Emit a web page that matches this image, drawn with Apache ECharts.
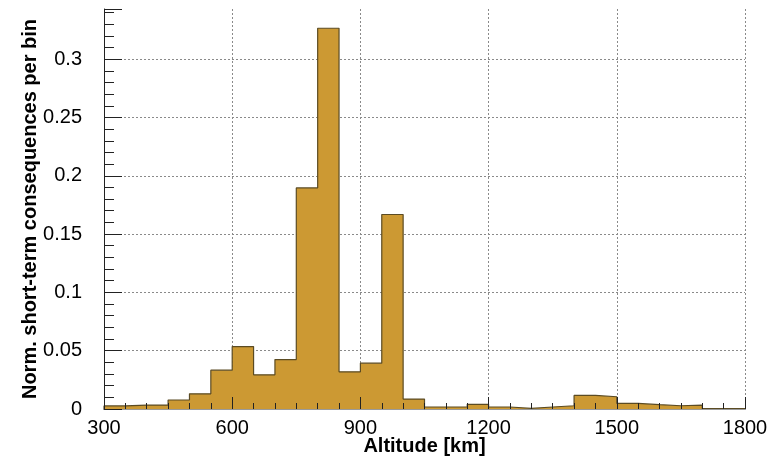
<!DOCTYPE html>
<html>
<head>
<meta charset="utf-8">
<script src="https://cdn.jsdelivr.net/npm/echarts@6/dist/echarts.min.js"></script>
<style>html,body{margin:0;padding:0;background:#fff;}#c{width:767px;height:462px;}</style>
</head>
<body>
<div id="c"></div>
<script>
// Bin edges (km) of the altitude histogram
const binEdges = [300,350,400,450,500,550,600,650,700,750,800,850,900,950,1000,1050,
  1100,1150,1200,1250,1300,1350,1400,1450,1500,1550,1600,1650,1700,1750,1800];
// Normalised short-term consequences per bin
const binValues = [0.0026,0.0034,0.0034,0.0077,0.013,0.0333,0.0535,0.0293,0.0424,0.1896,
  0.3265,0.0319,0.0393,0.1668,0.0085,0.0017,0.0017,0.004,0.0017,0.0005,
  0.0017,0.0028,0.0116,0.0105,0.0048,0.0037,0.0028,0.0034,0.0004,0.0004];
const xTickLabels = [300,600,900,1200,1500,1800];
const yTickLabels = [0,0.05,0.1,0.15,0.2,0.25,0.3];

const X_MIN = xTickLabels[0], X_MAX = xTickLabels[xTickLabels.length-1];
const Y_MAX = 0.343;

// Step outline of the histogram built from the bins
const outline = [[binEdges[0],0]];
binValues.forEach((v,i)=>{ outline.push([binEdges[i],v]); outline.push([binEdges[i+1],v]); });
outline.push([binEdges[binEdges.length-1],0]);

const FONT = 'Liberation Sans, Arial, Helvetica, sans-serif';
const chart = echarts.init(document.getElementById('c'), null, {renderer:'canvas'});
const gridDash = {color:'#8a8a8a', width:1, type:[2,2]};

chart.setOption({
  animation:false,
  backgroundColor:'#fff',
  grid:{left:104, right:22, top:9, bottom:53, containLabel:false, outerBoundsMode:'none'},
  xAxis:[
    {type:'value', min:X_MIN, max:X_MAX, interval:300, position:'bottom', z:0,
     axisLine:{show:true, onZero:false, lineStyle:{color:'#222', width:1}},
     axisTick:{show:false}, minorTick:{show:false},
     axisLabel:{show:true, margin:9, color:'#000', fontSize:20, fontFamily:FONT,
       formatter:(v)=> xTickLabels.includes(v) ? String(v) : ''},
     splitLine:{show:true, lineStyle:gridDash},
     name:'Altitude [km]', nameLocation:'middle', nameGap:27, nameMoveOverlap:false,
     nameTextStyle:{color:'#000', fontSize:20, fontWeight:'bold', fontFamily:FONT}},
    {type:'value', min:X_MIN, max:X_MAX, interval:300, position:'bottom', z:10,
     axisLine:{show:false}, axisLabel:{show:false}, splitLine:{show:false},
     axisTick:{show:true, inside:true, length:12, lineStyle:{color:'#222'}},
     minorTick:{show:true, splitNumber:6, length:6, lineStyle:{color:'#222'}}},
    {type:'value', min:X_MIN, max:X_MAX, position:'top', z:10,
     axisLine:{show:true, lineStyle:{color:'#9a9a9a', width:1}},
     axisTick:{show:false}, axisLabel:{show:false}, splitLine:{show:false}}
  ],
  yAxis:[
    {type:'value', min:0, max:Y_MAX, interval:0.05, position:'left', z:0,
     axisLine:{show:true, onZero:false, lineStyle:{color:'#222', width:1}},
     axisTick:{show:false},
     axisLabel:{show:true, showMaxLabel:false, margin:22, color:'#000', fontSize:20, fontFamily:FONT,
       formatter:(v)=>{ const k = yTickLabels.find(t=>Math.abs(t-v)<1e-9); return k===undefined?'':String(k); }},
     splitLine:{show:true, showMaxLine:false, lineStyle:gridDash},
     name:'Norm. short-term consequences per bin', nameLocation:'middle', nameGap:64, nameMoveOverlap:false,
     nameTextStyle:{color:'#000', fontSize:20, fontWeight:'bold', fontFamily:FONT}},
    {type:'value', min:0, max:Y_MAX, interval:0.05, position:'left', z:10,
     axisLine:{show:false}, axisLabel:{show:false}, splitLine:{show:false},
     axisTick:{show:true, inside:true, length:18, lineStyle:{color:'#222'}}},
    {type:'value', min:0, max:Y_MAX, interval:0.01, position:'left', z:10,
     axisLine:{show:false}, axisLabel:{show:false}, splitLine:{show:false},
     axisTick:{show:true, inside:true, length:10, lineStyle:{color:'#222'}}}
  ],
  series:[
    {type:'line', xAxisIndex:0, yAxisIndex:0, z:3, data:outline, showSymbol:false, symbol:'none',
     areaStyle:{color:'#cc9933', opacity:1, origin:'start'},
     lineStyle:{color:'#5b4b23', width:1.2}}
  ]
});
</script>
</body>
</html>
